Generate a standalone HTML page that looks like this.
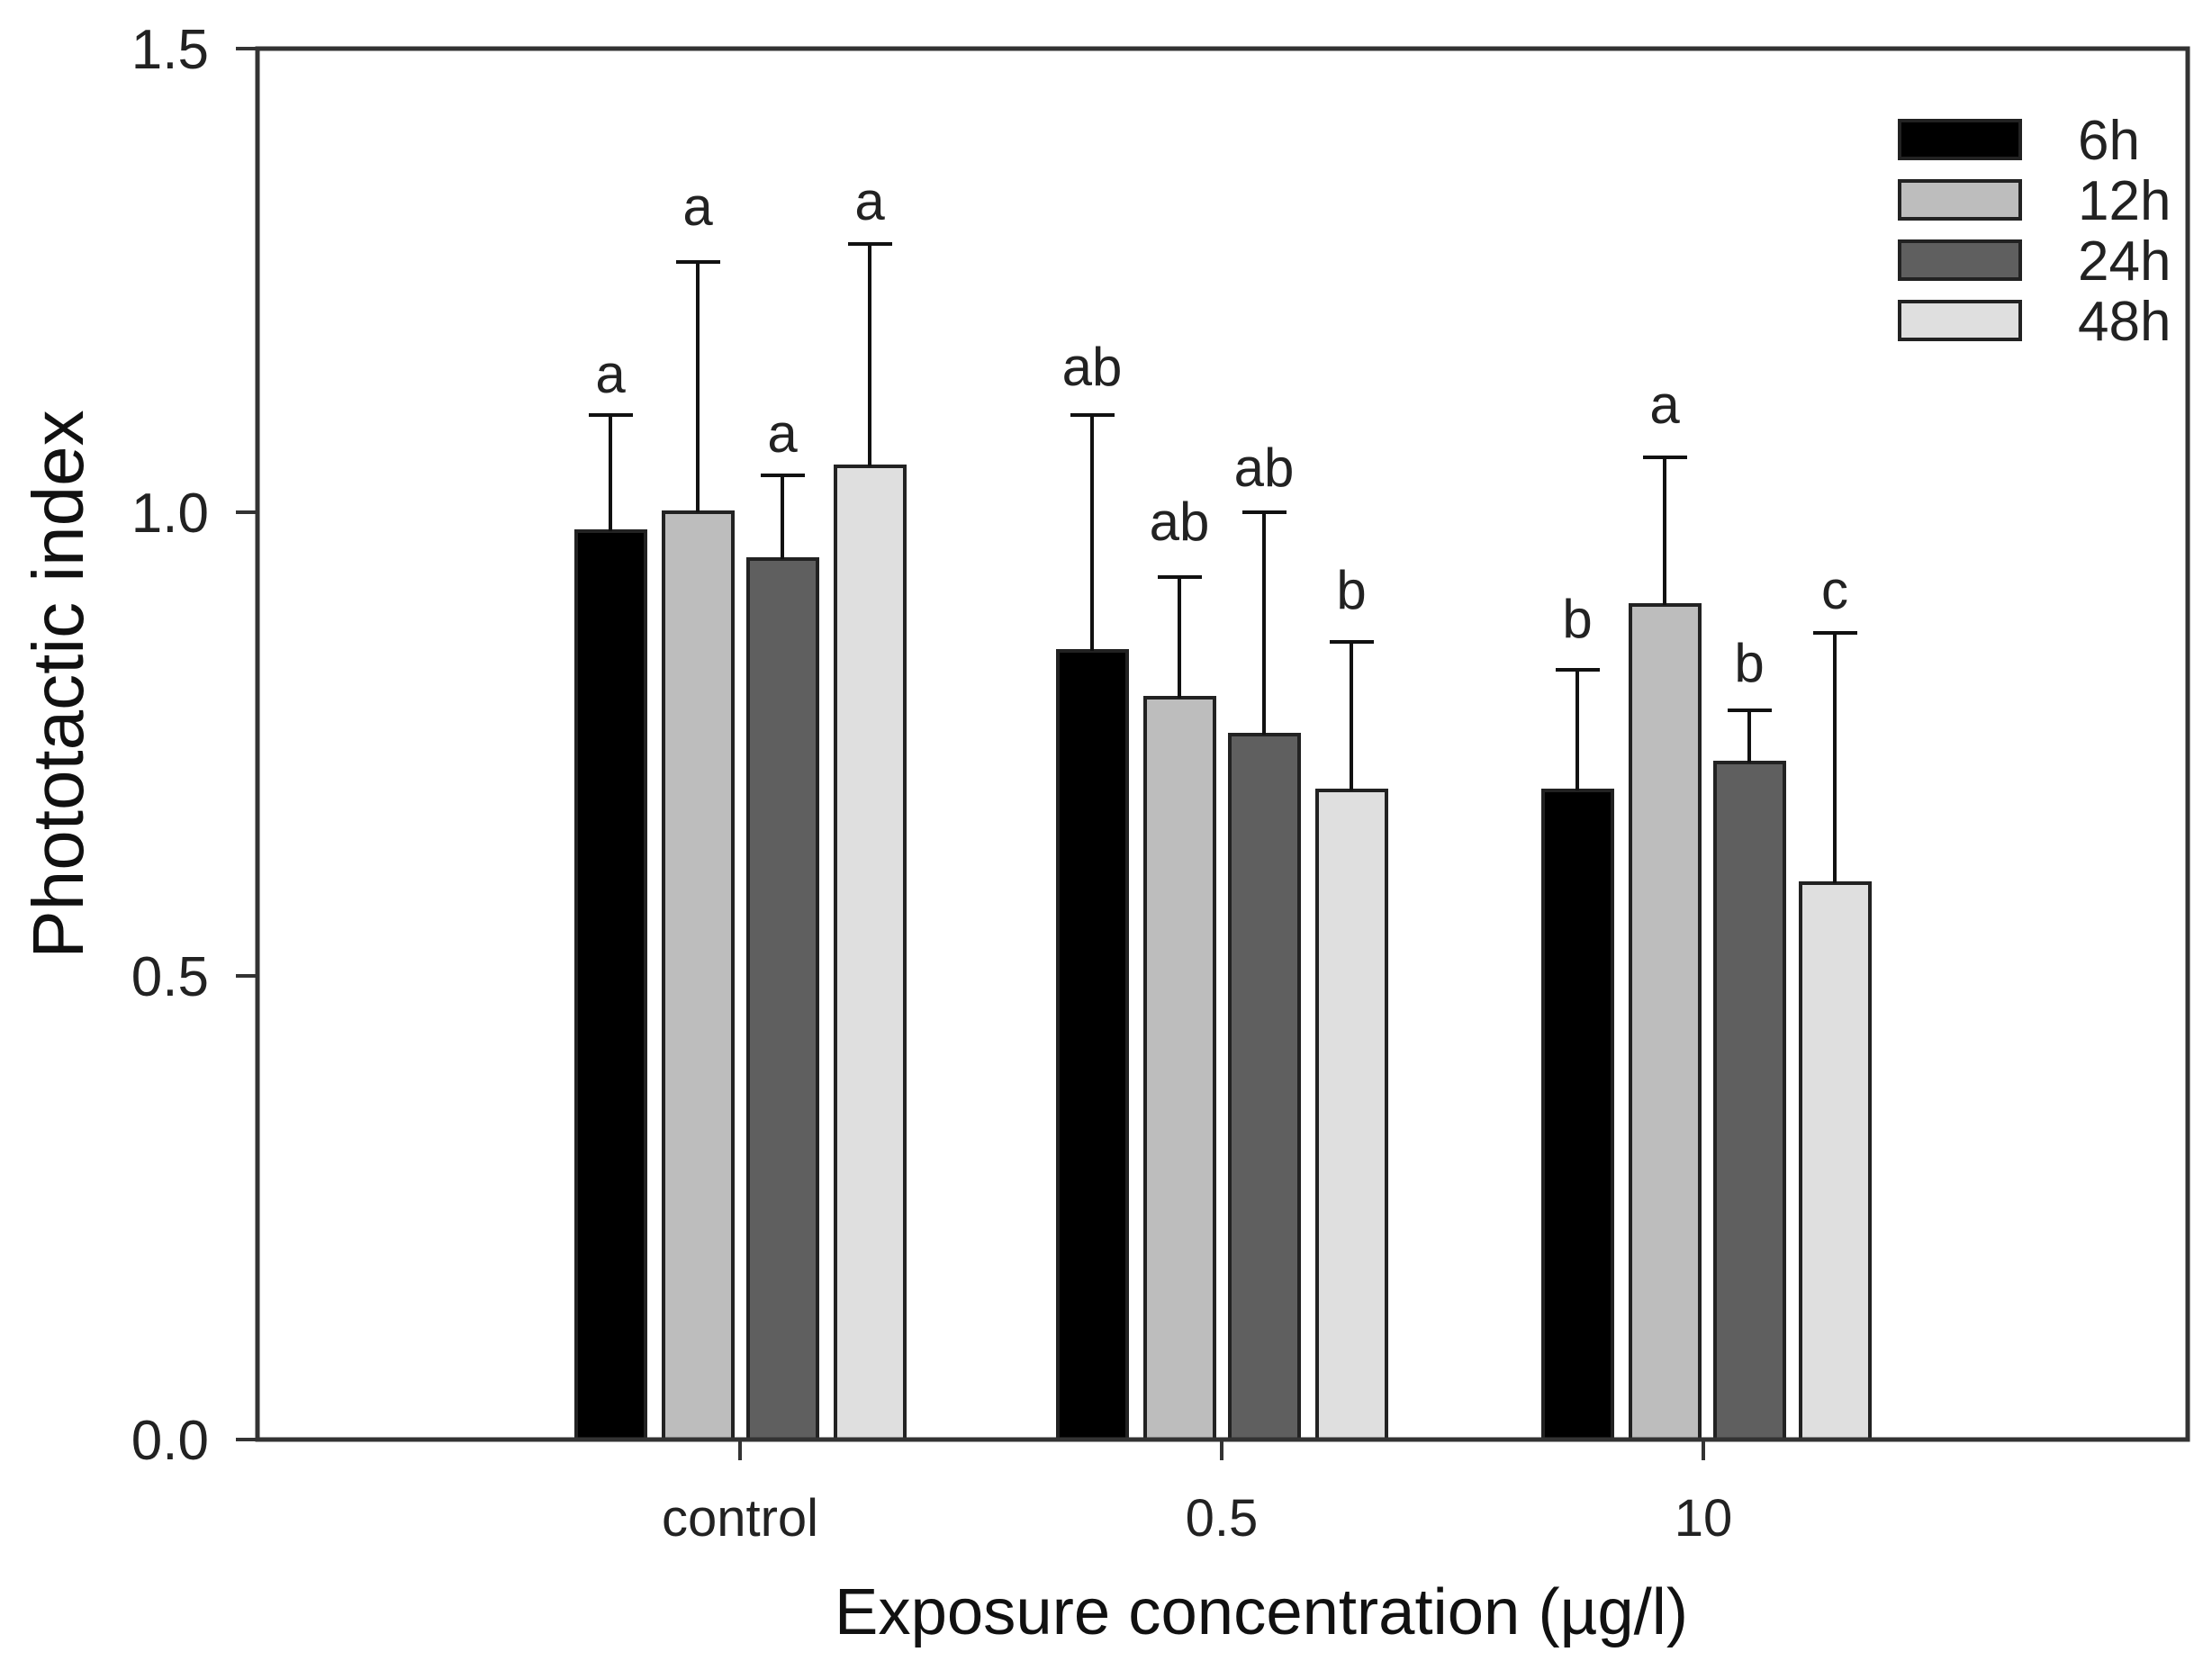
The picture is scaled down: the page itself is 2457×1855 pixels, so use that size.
<!DOCTYPE html>
<html><head><meta charset="utf-8"><style>html,body{margin:0;padding:0;background:#fff}svg{display:block}</style></head>
<body>
<svg width="2457" height="1855" viewBox="0 0 2457 1855" xmlns="http://www.w3.org/2000/svg" font-family="Liberation Sans, Arial, sans-serif">
<rect width="2457" height="1855" fill="#fff"/>
<g fill="#222" font-size="62">
<text x="232" y="76" text-anchor="end">1.5</text>
<text x="232" y="591" text-anchor="end">1.0</text>
<text x="232" y="1106" text-anchor="end">0.5</text>
<text x="232" y="1621" text-anchor="end">0.0</text>
</g>
<g stroke="#333" stroke-width="4">
<line x1="262" y1="54" x2="286" y2="54"/>
<line x1="262" y1="569" x2="286" y2="569"/>
<line x1="262" y1="1084" x2="286" y2="1084"/>
<line x1="262" y1="1599" x2="286" y2="1599"/>
<line x1="822" y1="1599" x2="822" y2="1622"/>
<line x1="1357" y1="1599" x2="1357" y2="1622"/>
<line x1="1892" y1="1599" x2="1892" y2="1622"/>
</g>
<g stroke="#222" stroke-width="4">
<rect x="640" y="590" width="77" height="1009" fill="#000"/>
<rect x="737" y="569" width="77" height="1030" fill="#bdbdbd"/>
<rect x="831" y="621" width="77" height="978" fill="#5f5f5f"/>
<rect x="928" y="518" width="77" height="1081" fill="#dfdfdf"/>
<rect x="1175" y="723" width="77" height="876" fill="#000"/>
<rect x="1272" y="775" width="77" height="824" fill="#bdbdbd"/>
<rect x="1366" y="816" width="77" height="783" fill="#5f5f5f"/>
<rect x="1463" y="878" width="77" height="721" fill="#dfdfdf"/>
<rect x="1714" y="878" width="77" height="721" fill="#000"/>
<rect x="1811" y="672" width="77" height="927" fill="#bdbdbd"/>
<rect x="1905" y="847" width="77" height="752" fill="#5f5f5f"/>
<rect x="2000" y="981" width="77" height="618" fill="#dfdfdf"/>
</g>
<g stroke="#111" stroke-width="4">
<path d="M678 590V461M654 461h49"/>
<path d="M775 569V291M751 291h49"/>
<path d="M869 621V528M845 528h49"/>
<path d="M966 518V271M942 271h49"/>
<path d="M1213 723V461M1189 461h49"/>
<path d="M1310 775V641M1286 641h49"/>
<path d="M1404 816V569M1380 569h49"/>
<path d="M1501 878V713M1477 713h49"/>
<path d="M1752 878V744M1728 744h49"/>
<path d="M1849 672V508M1825 508h49"/>
<path d="M1943 847V789M1919 789h49"/>
<path d="M2038 981V703M2014 703h49"/>
</g>
<g fill="#222" font-size="60" text-anchor="middle">
<text x="678" y="436">a</text>
<text x="775" y="250">a</text>
<text x="869" y="502">a</text>
<text x="966" y="244">a</text>
<text x="1213" y="428">ab</text>
<text x="1310" y="600">ab</text>
<text x="1404" y="540">ab</text>
<text x="1501" y="676">b</text>
<text x="1752" y="708">b</text>
<text x="1849" y="470">a</text>
<text x="1943" y="757">b</text>
<text x="2038" y="676">c</text>
</g>
<rect x="286" y="54" width="2144" height="1545" fill="none" stroke="#333" stroke-width="5"/>
<g stroke="#222" stroke-width="4">
<rect x="2110" y="134" width="134" height="42" fill="#000"/>
<rect x="2110" y="201" width="134" height="42" fill="#bdbdbd"/>
<rect x="2110" y="268" width="134" height="42" fill="#5f5f5f"/>
<rect x="2110" y="335" width="134" height="42" fill="#dfdfdf"/>
</g>
<g fill="#222" font-size="62">
<text x="2308" y="177">6h</text>
<text x="2308" y="244">12h</text>
<text x="2308" y="311">24h</text>
<text x="2308" y="378">48h</text>
</g>
<g fill="#222" font-size="58" text-anchor="middle">
<text x="822" y="1706">control</text>
<text x="1357" y="1706">0.5</text>
<text x="1892" y="1706">10</text>
</g>
<text x="1401" y="1815" font-size="72" text-anchor="middle" fill="#111" textLength="948" lengthAdjust="spacingAndGlyphs">Exposure concentration (µg/l)</text>
<text transform="translate(92,760) rotate(-90)" font-size="80" text-anchor="middle" fill="#111">Phototactic index</text>
</svg>
</body></html>
